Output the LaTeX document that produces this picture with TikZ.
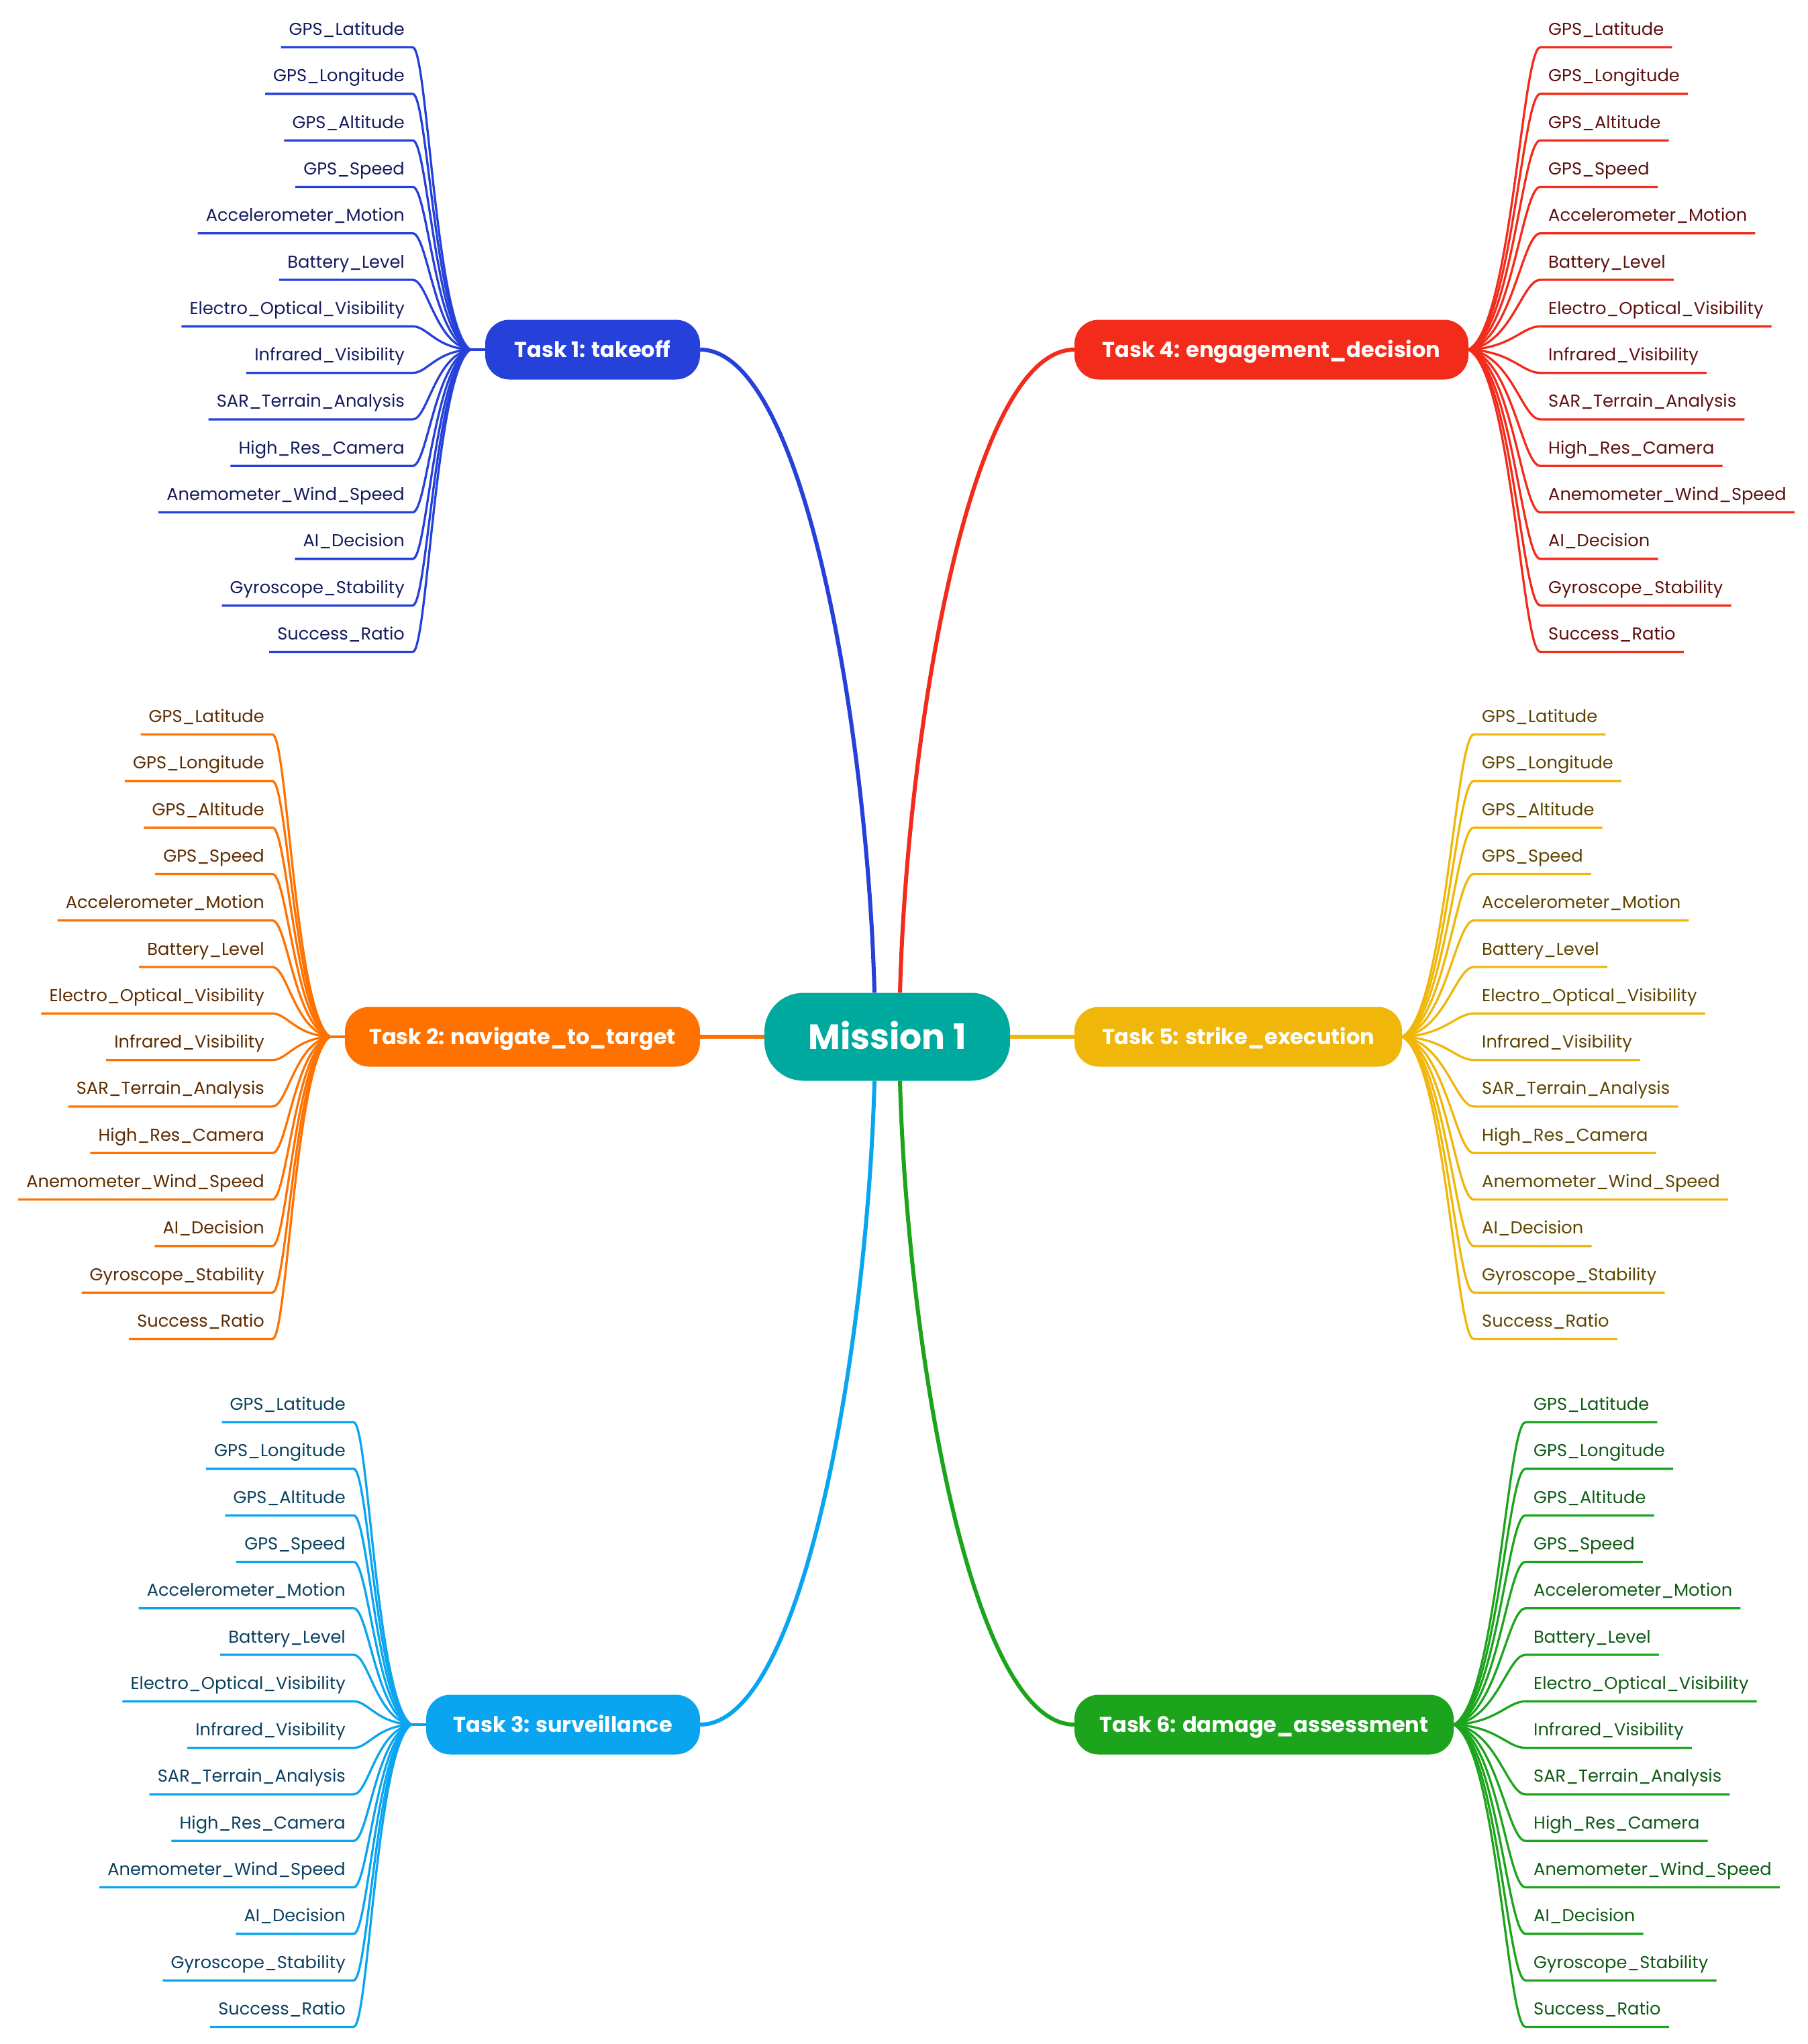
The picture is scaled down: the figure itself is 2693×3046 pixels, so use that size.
\documentclass[tikz,border=0pt]{standalone}
\usepackage{fontspec}
\setmainfont{Poppins}
\definecolor{cteal}{HTML}{00A99D}
\definecolor{cblue}{HTML}{2541D9}
\definecolor{cred}{HTML}{F22B1B}
\definecolor{corange}{HTML}{FF7200}
\definecolor{cyellow}{HTML}{F0B60A}
\definecolor{csky}{HTML}{0AA5F0}
\definecolor{cgreen}{HTML}{1CA51C}
\definecolor{tblue}{HTML}{151A5C}
\definecolor{tred}{HTML}{5C1010}
\definecolor{torange}{HTML}{5C2B00}
\definecolor{tyellow}{HTML}{5C4400}
\definecolor{tsky}{HTML}{0A405E}
\definecolor{tgreen}{HTML}{0E5A14}
\def\leaflist{GPS\_Latitude,GPS\_Longitude,GPS\_Altitude,GPS\_Speed,Accelerometer\_Motion,Battery\_Level,Electro\_Optical\_Visibility,Infrared\_Visibility,SAR\_Terrain\_Analysis,High\_Res\_Camera,Anemometer\_Wind\_Speed,AI\_Decision,Gyroscope\_Stability,Success\_Ratio}
% right-hand leaves: #1 prefix, #2 branch x, #3 y, #4 line colour, #5 text colour
\newcommand\leafsR[5]{%
  \coordinate (#1c) at (#2,#3);
  \foreach \lab [count=\i] in \leaflist {
    \pgfmathsetmacro\uy{#3+(\i-7.5)*69.3}
    \pgfmathsetmacro\cy{0.07*(\uy-#3)}
    \coordinate (#1e\i) at (#2+107,\uy);
    \node[leaftext, text=#5, anchor=base west] (#1t\i) at (#2+107,\uy-18) {\lab};
    \draw[leafline, #4] (#1c) .. controls +(64,\cy) and +(-27,0) .. (#1e\i) -- (#1e\i -| #1t\i.east);
  }%
}
% left-hand leaves
\newcommand\leafsL[5]{%
  \coordinate (#1c) at (#2,#3);
  \foreach \lab [count=\i] in \leaflist {
    \pgfmathsetmacro\uy{#3+(\i-7.5)*69.3}
    \pgfmathsetmacro\cy{0.07*(\uy-#3)}
    \coordinate (#1e\i) at (#2-86,\uy);
    \node[leaftext, text=#5, anchor=base east] (#1t\i) at (#2-86,\uy-18) {\lab};
    \draw[leafline, #4] (#1c) .. controls +(-52,\cy) and +(22,0) .. (#1e\i) -- (#1e\i -| #1t\i.west);
  }%
}
\begin{document}
\begin{tikzpicture}[x=1pt,y=-1pt,
  leaftext/.style={font=\fontsize{25.7}{30}\selectfont, inner xsep=12pt, inner ysep=0pt},
  leafline/.style={line width=3.3pt},
  mainline/.style={line width=6pt},
  taskbox/.style={fill=#1, rounded corners=36pt, inner sep=0pt, text=white,
    font=\fontsize{32}{36}\selectfont\bfseries, minimum height=89pt,
    text height=23pt, text depth=0pt},
  centerbox/.style={fill=cteal, rounded corners=58pt, inner sep=0pt, text=white,
    font=\fontsize{52}{60}\selectfont\bfseries, minimum height=131pt, minimum width=366pt,
    text height=37pt, text depth=0pt}]
\useasboundingbox (0,0) rectangle (2693,3046);

% central node and tasks
\node[centerbox] (M) at (1322,1545) {Mission 1};
\node[taskbox=cblue, minimum width=320pt] (T1) at (883,521) {Task 1: takeoff};
\node[taskbox=corange, minimum width=529pt] (T2) at (778.5,1545) {Task 2: navigate\_to\_target};
\node[taskbox=csky, minimum width=408pt] (T3) at (839,2570) {Task 3: surveillance};
\node[taskbox=cred, minimum width=587pt] (T4) at (1894.5,521) {Task 4: engagement\_decision};
\node[taskbox=cyellow, minimum width=488pt] (T5) at (1845,1545) {Task 5: strike\_execution};
\node[taskbox=cgreen, minimum width=565pt] (T6) at (1883.5,2570) {Task 6: damage\_assessment};

% main connectors
\draw[mainline, cblue] (T1.east) .. controls +(157,0) and +(-10,-380) .. ([xshift=-19pt]M.north);
\draw[mainline, cred] (T4.west) .. controls +(-157,0) and +(10,-380) .. ([xshift=19pt]M.north);
\draw[mainline, csky] (T3.east) .. controls +(157,0) and +(-10,380) .. ([xshift=-19pt]M.south);
\draw[mainline, cgreen] (T6.west) .. controls +(-157,0) and +(10,380) .. ([xshift=19pt]M.south);
\draw[mainline, corange] (M.west) -- (T2.east);
\draw[mainline, cyellow] (M.east) -- (T5.west);

% leaves
\leafsL{A}{701}{521}{cblue}{tblue}
\draw[leafline, cblue] (T1.west) -- (Ac);
\leafsL{B}{492}{1545}{corange}{torange}
\draw[leafline, corange] (T2.west) -- (Bc);
\leafsL{C}{613}{2570}{csky}{tsky}
\draw[leafline, csky] (T3.west) -- (Cc);
\leafsR{D}{2188}{521}{cred}{tred}
\leafsR{E}{2089}{1545}{cyellow}{tyellow}
\leafsR{F}{2166}{2570}{cgreen}{tgreen}
\end{tikzpicture}
\end{document}
